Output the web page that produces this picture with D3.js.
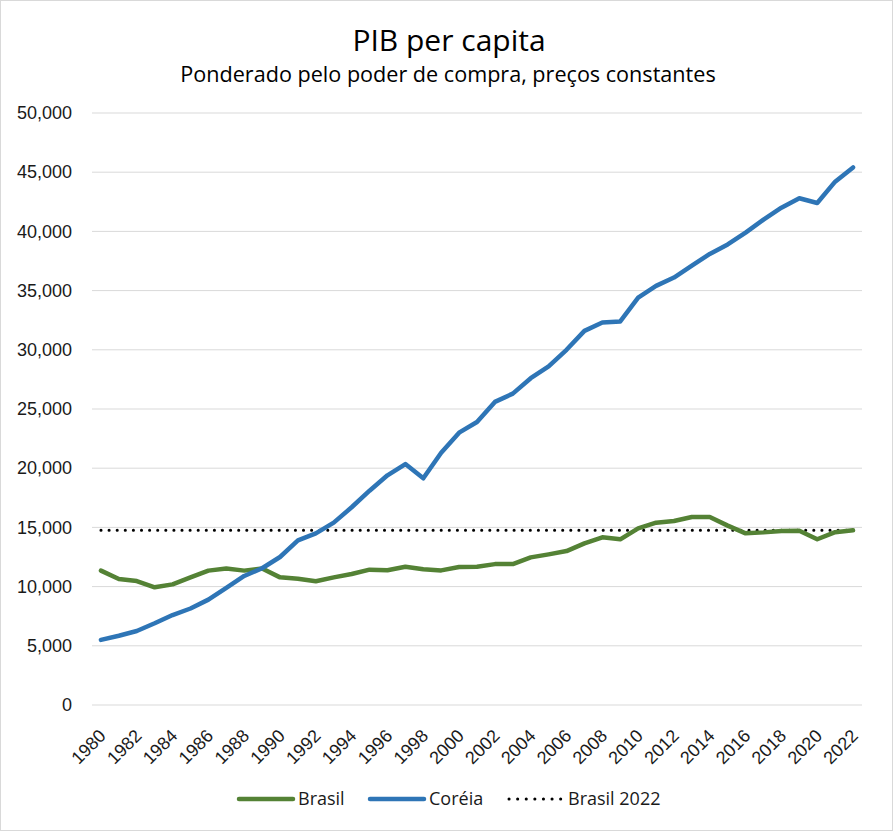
<!DOCTYPE html>
<html>
<head>
<meta charset="utf-8">
<script src="https://cdn.jsdelivr.net/npm/d3@7"></script>
<style>
  body { margin: 0; background: #fff; }
  svg { font-family: "Open Sans", "Noto Sans", sans-serif; }
</style>
</head>
<body>
<div id="chart"></div>
<script>
const years = d3.range(1980, 2023);

const brasil = [
  11350, 10640, 10470, 9940, 10190, 10780, 11350, 11520, 11350, 11520,
  10780, 10670, 10450, 10780, 11060, 11430, 11380, 11680, 11460, 11370,
  11650, 11680, 11900, 11900, 12470, 12720, 13000, 13650, 14160, 13990,
  14920, 15400, 15540, 15880, 15880, 15150, 14500, 14580, 14700, 14720,
  14000, 14600, 14750
];

const coreia = [
  5500, 5850, 6250, 6900, 7600, 8150, 8900, 9900, 10900, 11550,
  12500, 13900, 14500, 15400, 16700, 18100, 19400, 20350, 19150, 21300,
  23000, 23900, 25600, 26300, 27600, 28600, 30000, 31600, 32300, 32400,
  34400, 35400, 36100, 37100, 38100, 38900, 39900, 41000, 42000, 42800,
  42400, 44200, 45400
];

const brasil2022 = 14750;
const yTicks = d3.range(0, 50001, 5000);
const xTickLabels = years.filter(y => y % 2 === 0);

const width = 893, height = 831;
const margin = { left: 92, right: 31, top: 113, bottom: 126 };

const svg = d3.select("#chart").append("svg")
    .attr("width", width)
    .attr("height", height);

svg.append("rect")
    .attr("x", 0.5).attr("y", 0.5)
    .attr("width", width - 1).attr("height", height - 1)
    .attr("fill", "#fff")
    .attr("stroke", "#d9d9d9");

const x = d3.scaleBand()
    .domain(years)
    .range([margin.left, width - margin.right]);

const xc = d => x(d) + x.bandwidth() / 2;

const y = d3.scaleLinear()
    .domain([0, 50000])
    .range([height - margin.bottom, margin.top]);

// gridlines
svg.append("g")
    .selectAll("line")
    .data(yTicks)
    .enter().append("line")
    .attr("x1", margin.left)
    .attr("x2", width - margin.right)
    .attr("y1", d => y(d))
    .attr("y2", d => y(d))
    .attr("stroke", "#d9d9d9")
    .attr("stroke-width", 1);

// y axis
const yAxis = svg.append("g")
    .attr("transform", `translate(${margin.left}, 0)`)
    .call(d3.axisLeft(y).tickValues(yTicks).tickFormat(d3.format(",")).tickSize(0).tickPadding(20));
yAxis.select(".domain").remove();
yAxis.selectAll("text")
    .style("font-size", "18px")
    .style("fill", "#1a1a1a");

// x axis
const xAxis = svg.append("g")
    .attr("transform", `translate(0, ${y(0)})`)
    .call(d3.axisBottom(x).tickValues(xTickLabels).tickSize(0));
xAxis.select(".domain").remove();
xAxis.selectAll("text")
    .style("font-size", "18px")
    .style("fill", "#1a1a1a")
    .style("text-anchor", "end")
    .attr("x", 0).attr("y", 0).attr("dy", 0)
    .attr("transform", "translate(6, 32) rotate(-45)");

// lines
const line = d3.line()
    .x((d, i) => xc(years[i]))
    .y(d => y(d));

svg.append("line")
    .attr("x1", xc(years[0]))
    .attr("x2", xc(years[years.length - 1]))
    .attr("y1", y(brasil2022))
    .attr("y2", y(brasil2022))
    .attr("stroke", "#000")
    .attr("stroke-width", 3)
    .attr("stroke-linecap", "round")
    .attr("stroke-dasharray", "0.1 8");

svg.append("path")
    .datum(brasil)
    .attr("d", line)
    .attr("fill", "none")
    .attr("stroke", "#548235")
    .attr("stroke-width", 4.5)
    .attr("stroke-linejoin", "round")
    .attr("stroke-linecap", "round");

svg.append("path")
    .datum(coreia)
    .attr("d", line)
    .attr("fill", "none")
    .attr("stroke", "#2e75b6")
    .attr("stroke-width", 4.5)
    .attr("stroke-linejoin", "round")
    .attr("stroke-linecap", "round");

// title
svg.append("text")
    .attr("x", 449).attr("y", 51)
    .attr("text-anchor", "middle")
    .style("font-size", "30px")
    .style("fill", "#000")
    .text("PIB per capita");

svg.append("text")
    .attr("x", 448).attr("y", 82)
    .attr("text-anchor", "middle")
    .style("font-size", "21.6px")
    .style("fill", "#000")
    .text("Ponderado pelo poder de compra, preços constantes");

// legend
const legendItems = [
    { name: "Brasil", color: "#548235", dash: null, x: 239 },
    { name: "Coréia", color: "#2e75b6", dash: null, x: 370 },
    { name: "Brasil 2022", color: "#000", dash: "0.1 8.5", x: 509 }
];

const legend = svg.append("g").attr("transform", "translate(0, 799)");

legend.selectAll("line")
    .data(legendItems)
    .enter().append("line")
    .attr("x1", d => d.x)
    .attr("x2", d => d.x + 54)
    .attr("y1", 0).attr("y2", 0)
    .attr("stroke", d => d.color)
    .attr("stroke-width", d => d.dash ? 3 : 4.5)
    .attr("stroke-linecap", "round")
    .attr("stroke-dasharray", d => d.dash);

legend.selectAll("text")
    .data(legendItems)
    .enter().append("text")
    .attr("x", d => d.x + 59)
    .attr("y", 0)
    .attr("dy", "0.35em")
    .style("font-size", "18px")
    .style("fill", "#1a1a1a")
    .text(d => d.name);
</script>
</body>
</html>
